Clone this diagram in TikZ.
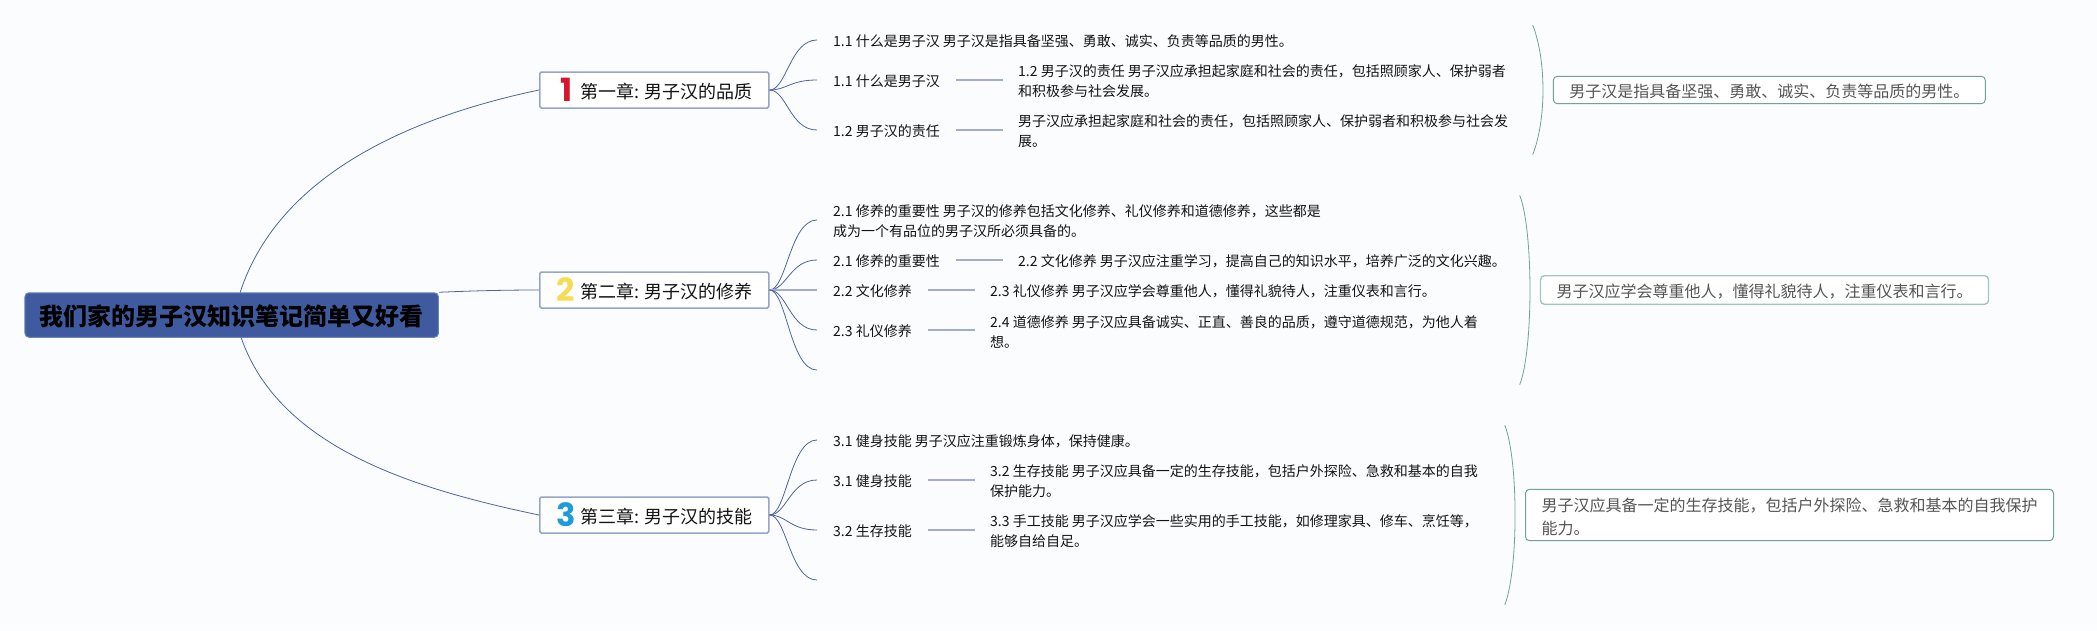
\documentclass[tikz,border=0pt]{standalone}
\usepackage{fontspec}
\setmainfont{Noto Sans CJK SC}
\newfontfamily\numfont{Poppins}[BoldFont=* Bold]
\definecolor{bg}{HTML}{FBFCFE}
\definecolor{rootfill}{HTML}{3F5A9E}
\definecolor{rootedge}{HTML}{6E84B8}
\definecolor{chapedge}{HTML}{98A4C9}
\definecolor{wire}{HTML}{4F64A0}
\definecolor{seg}{HTML}{A3ACD0}
\definecolor{sumedge}{HTML}{6FA396}
\definecolor{sumedgelight}{HTML}{A5C6BD}
\definecolor{sumtext}{HTML}{555555}
\definecolor{inkc}{HTML}{141414}
\definecolor{numred}{HTML}{D7152F}
\definecolor{numyellow}{HTML}{F6DC55}
\definecolor{numblue}{HTML}{1F9BDA}
\tikzset{
  x=1pt,y=-1pt,
  rootbox/.style={draw=rootedge,fill=rootfill,line width=1pt,rounded corners=4pt,minimum width=413.5pt,minimum height=44.5pt,inner sep=0pt,text=black,font=\fontsize{24}{28}\selectfont\bfseries},
  chapbox/.style={draw=chapedge,fill=white,line width=1.5pt,rounded corners=1.5pt,anchor=west,minimum height=36pt,inner xsep=16pt,inner ysep=0pt,text=inkc,font=\fontsize{18}{20}\selectfont},
  marker/.style={inner sep=0pt,font=\numfont\bfseries\fontsize{32}{32}\selectfont},
  item/.style={anchor=west,align=left,inner xsep=16pt,inner ysep=0pt,text=inkc,font=\fontsize{14}{20}\selectfont},
  detail/.style={anchor=west,align=left,inner xsep=15pt,inner ysep=0pt,text=inkc,font=\fontsize{14}{20}\selectfont},
  sumbox/.style={draw=sumedge,fill=white,line width=1pt,rounded corners=4pt,anchor=west,align=left,inner xsep=16pt,inner ysep=0pt,text=sumtext,font=\fontsize{16}{23}\selectfont},
  wireline/.style={draw=wire,line width=0.8pt},
  segline/.style={draw=seg,line width=1.6pt},
  brace/.style={draw=sumedge,line width=0.8pt},
}
\newcommand{\lowr}[1]{\raisebox{-1.5pt}[\height][\depth]{#1}}
\newcommand{\branchto}[2]{\draw[wireline] (#1.east) .. controls +(17,0) and +(-27,0) .. (#2);}
\newcommand{\bracearc}[2]{\draw[brace] (#1) .. controls +(13.7,35) and +(13.7,-35) .. (#2);}
\begin{document}
\begin{tikzpicture}
\useasboundingbox (0,0) rectangle (2097,630);
\fill[bg] (0,0) rectangle (2097,630);

% root and chapters
\node[rootbox] (root) at (231.7,315) {\lowr{我们家的男子汉知识笔记简单又好看}};
\node[chapbox] (c1) at (539,90) {\makebox[197pt][r]{\lowr{第一章: 男子汉的品质}}};
\node[chapbox] (c2) at (539,290) {\makebox[197pt][r]{\lowr{第二章: 男子汉的修养}}};
\node[chapbox] (c3) at (539,515) {\makebox[197pt][r]{\lowr{第三章: 男子汉的技能}}};
\node[marker,text=numred] (m1) at (566.5,90) {1};
\node[marker,text=numyellow] (m2) at (566,290) {2};
\node[marker,text=numblue] (m3) at (566,515) {3};

\draw[wireline] ([xshift=8.5pt]root.north) .. controls (280,170) and (420,115) .. (c1.west);
\draw[wireline] (root.north east) .. controls (470,291) and (500,290) .. (c2.west);
\draw[wireline] ([xshift=9.5pt]root.south) .. controls (280,450) and (420,490) .. (c3.west);

% chapter 1
\node[item] (a1) at (817,40) {\lowr{1.1 什么是男子汉 男子汉是指具备坚强、勇敢、诚实、负责等品质的男性。}};
\node[item] (a2) at (817,80) {\lowr{1.1 什么是男子汉}};
\node[item] (a3) at (817,130) {\lowr{1.2 男子汉的责任}};
\node[detail] (a2d) at (1003,80) {\lowr{1.2 男子汉的责任 男子汉应承担起家庭和社会的责任，包括照顾家人、保护弱者}\\\lowr{和积极参与社会发展。}};
\node[detail] (a3d) at (1003,130) {\lowr{男子汉应承担起家庭和社会的责任，包括照顾家人、保护弱者和积极参与社会发}\\\lowr{展。}};
\branchto{c1}{a1.west}
\branchto{c1}{a2.west}
\branchto{c1}{a3.west}
\draw[segline] (a2.east) -- (a2d.west);
\draw[segline] (a3.east) -- (a3d.west);

% chapter 2
\node[item] (b1) at (817,220) {\lowr{2.1 修养的重要性 男子汉的修养包括文化修养、礼仪修养和道德修养，这些都是}\\\lowr{成为一个有品位的男子汉所必须具备的。}};
\node[item] (b2) at (817,260) {\lowr{2.1 修养的重要性}};
\node[item] (b3) at (817,290) {\lowr{2.2 文化修养}};
\node[item] (b4) at (817,330) {\lowr{2.3 礼仪修养}};
\coordinate (b5) at (817,370);
\node[detail] (b2d) at (1003,260) {\lowr{2.2 文化修养 男子汉应注重学习，提高自己的知识水平，培养广泛的文化兴趣。}};
\node[detail] (b3d) at (975,290) {\lowr{2.3 礼仪修养 男子汉应学会尊重他人，懂得礼貌待人，注重仪表和言行。}};
\node[detail] (b4d) at (975,330) {\lowr{2.4 道德修养 男子汉应具备诚实、正直、善良的品质，遵守道德规范，为他人着}\\\lowr{想。}};
\branchto{c2}{b1.west}
\branchto{c2}{b2.west}
\draw[segline] (c2.east) -- (b3.west);
\branchto{c2}{b4.west}
\branchto{c2}{b5}
\draw[segline] (b2.east) -- (b2d.west);
\draw[segline] (b3.east) -- (b3d.west);
\draw[segline] (b4.east) -- (b4d.west);

% chapter 3
\node[item] (d1) at (817,440) {\lowr{3.1 健身技能 男子汉应注重锻炼身体，保持健康。}};
\node[item] (d2) at (817,480) {\lowr{3.1 健身技能}};
\node[item] (d3) at (817,530) {\lowr{3.2 生存技能}};
\coordinate (d4) at (817,580);
\node[detail] (d2d) at (975,480) {\lowr{3.2 生存技能 男子汉应具备一定的生存技能，包括户外探险、急救和基本的自我}\\\lowr{保护能力。}};
\node[detail] (d3d) at (975,530) {\lowr{3.3 手工技能 男子汉应学会一些实用的手工技能，如修理家具、修车、烹饪等，}\\\lowr{能够自给自足。}};
\branchto{c3}{d1.west}
\branchto{c3}{d2.west}
\branchto{c3}{d3.west}
\branchto{c3}{d4}
\draw[segline] (d2.east) -- (d2d.west);
\draw[segline] (d3.east) -- (d3d.west);

% summaries
\coordinate (s1t) at (1532.7,25);
\coordinate (s1b) at (1532.7,154.7);
\coordinate (s2t) at (1519.7,195.3);
\coordinate (s2b) at (1519.7,384.7);
\coordinate (s3t) at (1504.8,425.3);
\coordinate (s3b) at (1504.8,604.7);
\bracearc{s1t}{s1b}
\bracearc{s2t}{s2b}
\bracearc{s3t}{s3b}
\node[sumbox,minimum height=27.4pt] (s1) at (1552.8,90) {\lowr{男子汉是指具备坚强、勇敢、诚实、负责等品质的男性。}};
\node[sumbox,draw=sumedgelight,line width=1.4pt,minimum height=28.6pt] (s2) at (1539.8,290) {\lowr{男子汉应学会尊重他人，懂得礼貌待人，注重仪表和言行。}};
\node[sumbox,minimum height=51.4pt] (s3) at (1525,515) {\lowr{男子汉应具备一定的生存技能，包括户外探险、急救和基本的自我保护}\\\lowr{能力。}};
\end{tikzpicture}
\end{document}
